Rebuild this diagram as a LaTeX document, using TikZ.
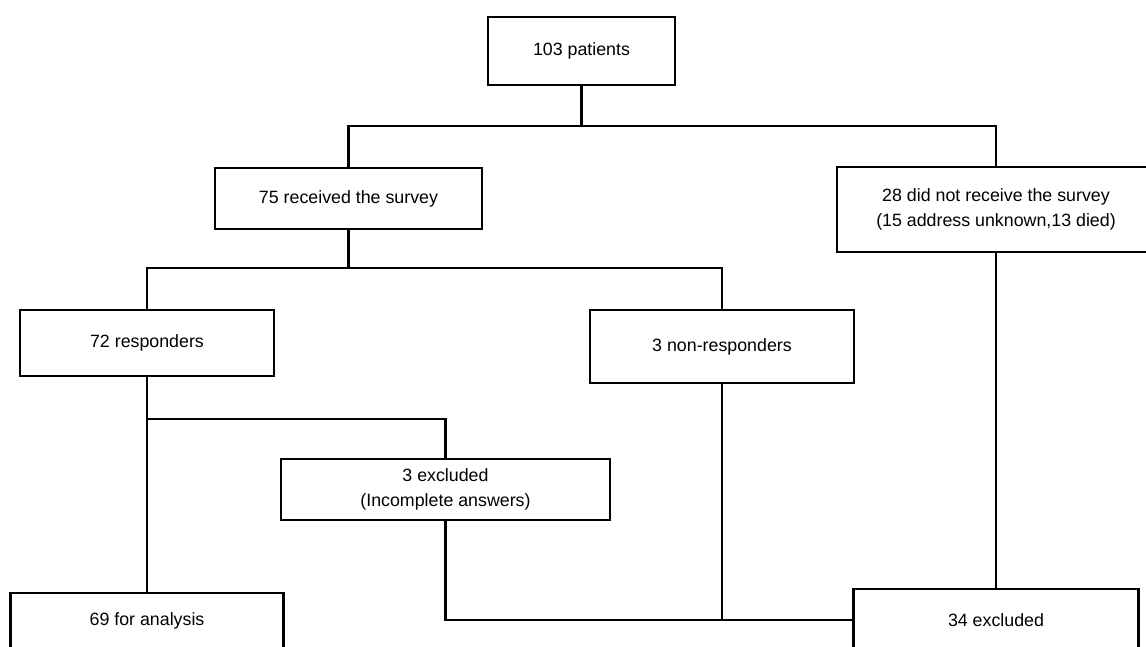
\documentclass[tikz,border=0pt]{standalone}
\usepackage{fontspec}
\setmainfont{Liberation Sans}
\begin{document}
\begin{tikzpicture}[x=1pt,y=-1pt,
  box/.style={draw=black, line width=2.4pt, rectangle, inner sep=0pt, align=center,
    font=\fontsize{17.8}{25}\selectfont},
  conn/.style={draw=black, line width=2.4pt}]
\useasboundingbox (0,0) rectangle (1146,646);
\fill[white] (0,0) rectangle (1146,646);
\clip (0,0) rectangle (1146,646);
\node[box, minimum width=187pt, minimum height=68pt] (n103) at (581.5,51) {103 patients};
\node[box, minimum width=267pt, minimum height=61pt] (n75) at (348.5,198.5) {75 received the survey};
\node[box, minimum width=318pt, minimum height=85pt] (n28) at (996,209.5) {28 did not receive the survey\\(15 address unknown,13 died)};
\node[box, minimum width=254pt, minimum height=66pt] (n72) at (147,343) {72 responders};
\node[box, minimum width=264pt, minimum height=73pt] (nnr) at (722,346.5) {3 non-responders};
\node[box, minimum width=329pt, minimum height=61pt] (nex3) at (445.5,489.5) {3 excluded\\(Incomplete answers)};
\node[box, minimum width=273pt, minimum height=56pt] (n69) at (147,621) {69 for analysis};
\node[box, minimum width=285pt, minimum height=62pt] (n34) at (996,620) {34 excluded};
\coordinate (j1) at (581.5,126);
\coordinate (j2) at (348.5,268);
\coordinate (j3) at (147,419);
\draw[conn] (n103.south) -- (j1);
\draw[conn] (n75.north) |- (j1) -| (n28.north);
\draw[conn] (n75.south) -- (j2);
\draw[conn] (n72.north) |- (j2) -| (nnr.north);
\draw[conn] (n72.south) -- (n69.north);
\draw[conn] (j3) -| (nex3.north);
\draw[conn] (nex3.south) |- (n34.west);
\draw[conn] (nnr.south) -- (nnr.south |- n34.west);
\draw[conn] (n28.south) -- (n34.north);
\end{tikzpicture}
\end{document}
